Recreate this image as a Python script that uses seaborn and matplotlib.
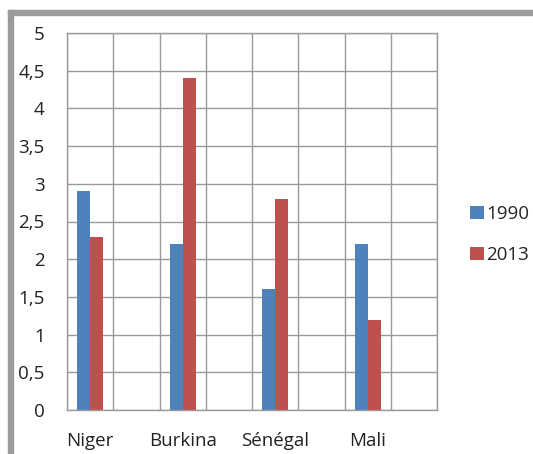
import matplotlib
matplotlib.use("Agg")
import matplotlib.pyplot as plt
from matplotlib.patches import Rectangle
import seaborn as sns
import pandas as pd

countries = ["Niger", "Burkina", "Sénégal", "Mali"]
values_1990 = [2.9, 2.2, 1.6, 2.2]
values_2013 = [2.3, 4.4, 2.8, 1.2]
years = ["1990", "2013"]
y_ticks = [0, 0.5, 1, 1.5, 2, 2.5, 3, 3.5, 4, 4.5, 5]
y_labels = ["0", "0,5", "1", "1,5", "2", "2,5", "3", "3,5", "4", "4,5", "5"]

df = pd.DataFrame({
    "pays": countries * 2,
    "annee": [years[0]] * 4 + [years[1]] * 4,
    "valeur": values_1990 + values_2013,
})

sns.set_style("white")
plt.rcParams["font.family"] = ["Open Sans", "DejaVu Sans"]
FS = 13.5

fig = plt.figure(figsize=(5.33, 4.54), dpi=100)
ax = fig.add_axes([67 / 533, 1 - 410 / 454, (437 - 67) / 533, (410 - 33) / 454])

sns.barplot(data=df, x="pays", y="valeur", hue="annee", order=countries,
            hue_order=years, palette=["#4F81BD", "#C0504D"], width=0.28,
            saturation=1, linewidth=0, ax=ax, legend=True)

ax.set_xlim(-0.25, 3.75)
ax.set_ylim(0, 5)
ax.set_yticks(y_ticks)
ax.set_yticklabels(y_labels)
ax.set_xticks(range(len(countries)))
ax.set_xticklabels(countries)
ax.set_xticks([-0.25 + 0.5 * k for k in range(9)], minor=True)
ax.tick_params(axis="x", which="major", length=0, pad=16, labelsize=FS, labelcolor="#222222")
ax.tick_params(axis="x", which="minor", length=5, width=1, color="#9a9a9a", direction="out")
ax.tick_params(axis="y", which="major", length=7, width=1, color="#9a9a9a", pad=9, labelsize=FS, labelcolor="#222222")
ax.set_axisbelow(True)
ax.grid(True, axis="y", which="major", color="#9a9a9a", linewidth=1)
ax.grid(True, axis="x", which="minor", color="#9a9a9a", linewidth=1)
ax.grid(False, axis="x", which="major")
for s in ax.spines.values():
    s.set_color("#9a9a9a")
    s.set_linewidth(1)
ax.set_xlabel("")
ax.set_ylabel("")

leg = ax.legend(loc="center left", bbox_to_anchor=(1.07, 0.465), frameon=False,
                handlelength=0.7, handleheight=0.7, handletextpad=0.15,
                labelspacing=1.2, fontsize=FS, borderaxespad=0)

# gray frame (top and left)
fig.patches.append(Rectangle((8 / 533, 1 - 15 / 454), 1 - 8 / 533, 5 / 454,
                             transform=fig.transFigure, color="#9b9b9b", zorder=0))
fig.patches.append(Rectangle((8 / 533, 0), 5 / 533, 1 - 10 / 454,
                             transform=fig.transFigure, color="#9b9b9b", zorder=0))

fig.savefig("out.png", dpi=100, facecolor="white")
